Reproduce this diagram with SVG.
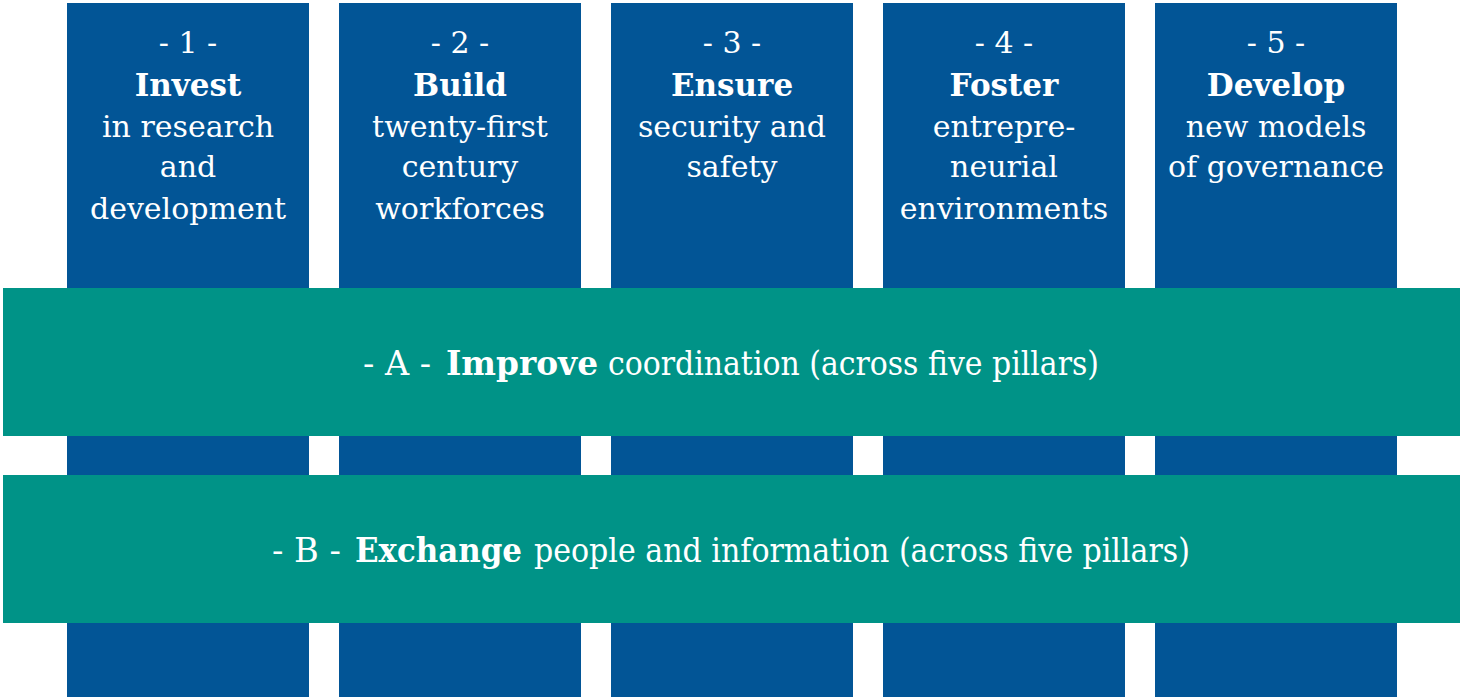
<svg xmlns="http://www.w3.org/2000/svg" width="1460" height="698" viewBox="0 0 1460 698">
<style>
.pillar{fill:#025596}
.band{fill:#009387}
.t{font-family:"DejaVu Serif","Liberation Serif",serif;fill:#ffffff;text-anchor:middle;font-size:30px}
.b{font-weight:bold}
.tb{font-size:31px}
.bt{font-family:"DejaVu Serif","Liberation Serif",serif;fill:#ffffff;font-size:34px}
</style>
<rect width="1460" height="698" fill="#ffffff"/>
<g id="pillar1">
<rect class="pillar" x="67" y="3" width="242" height="694"/>
<text class="t" x="188" y="53">- 1 -</text>
<text class="t b tb" x="188" y="96">Invest</text>
<text class="t" x="188" y="137">in research</text>
<text class="t" x="188" y="177">and</text>
<text class="t" x="188" y="219">development</text>
</g>
<g id="pillar2">
<rect class="pillar" x="339" y="3" width="242" height="694"/>
<text class="t" x="460" y="53">- 2 -</text>
<text class="t b tb" x="460" y="96">Build</text>
<text class="t" x="460" y="137">twenty-first</text>
<text class="t" x="460" y="177">century</text>
<text class="t" x="460" y="219">workforces</text>
</g>
<g id="pillar3">
<rect class="pillar" x="611" y="3" width="242" height="694"/>
<text class="t" x="732" y="53">- 3 -</text>
<text class="t b tb" x="732" y="96">Ensure</text>
<text class="t" x="732" y="137">security and</text>
<text class="t" x="732" y="177">safety</text>
</g>
<g id="pillar4">
<rect class="pillar" x="883" y="3" width="242" height="694"/>
<text class="t" x="1004" y="53">- 4 -</text>
<text class="t b tb" x="1004" y="96">Foster</text>
<text class="t" x="1004" y="137">entrepre-</text>
<text class="t" x="1004" y="177">neurial</text>
<text class="t" x="1004" y="219">environments</text>
</g>
<g id="pillar5">
<rect class="pillar" x="1155" y="3" width="242" height="694"/>
<text class="t" x="1276" y="53">- 5 -</text>
<text class="t b tb" x="1276" y="96">Develop</text>
<text class="t" x="1276" y="137">new models</text>
<text class="t" x="1276" y="177">of governance</text>
</g>
<g id="bandA">
<rect class="band" x="3" y="288" width="1457" height="148"/>
<text class="bt" x="363" y="375" textLength="68" lengthAdjust="spacingAndGlyphs">- A -</text>
<text class="bt b" x="446" y="375" textLength="152" lengthAdjust="spacingAndGlyphs">Improve</text>
<text class="bt" x="608" y="375" textLength="491" lengthAdjust="spacingAndGlyphs">coordination (across five pillars)</text>
</g>
<g id="bandB">
<rect class="band" x="3" y="475" width="1457" height="148"/>
<text class="bt" x="272" y="562" textLength="69" lengthAdjust="spacingAndGlyphs">- B -</text>
<text class="bt b" x="355" y="562" textLength="167" lengthAdjust="spacingAndGlyphs">Exchange</text>
<text class="bt" x="534" y="562" textLength="656" lengthAdjust="spacingAndGlyphs">people and information (across five pillars)</text>
</g>
<g id="connectors"/>
</svg>
